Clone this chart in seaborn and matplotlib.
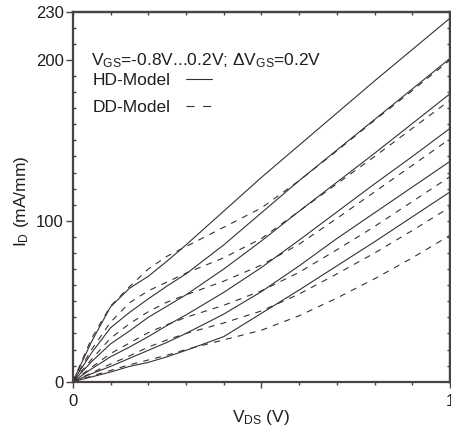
import numpy as np
import pandas as pd
import matplotlib
matplotlib.use("Agg")
import matplotlib.pyplot as plt
import seaborn as sns
from matplotlib.lines import Line2D
from matplotlib.ticker import MultipleLocator, FixedLocator, FixedFormatter, NullFormatter

# ---------------- data ----------------
V_DS = [0, 0.05, 0.1, 0.15, 0.2, 0.25, 0.3, 0.4, 0.5, 0.6, 0.7, 0.8, 0.9, 1.0]
VGS = ["0.2", "0.0", "-0.2", "-0.4", "-0.6", "-0.8"]

# HD-Model (solid)
HD_p02 = [0, 25, 46.5, 58, 65.5, 75, 85, 106, 127, 147, 167, 187, 206.5, 226]
HD_p00 = [0, 18, 33.5, 43, 51.5, 59.5, 67, 85, 105, 125, 144, 163, 182, 201]
HD_m02 = [0, 12.5, 23.5, 31.5, 40, 47, 54, 70, 87.5, 106, 124, 142, 160.5, 179]
HD_m04 = [0, 8, 15.5, 21.5, 28, 35, 41.5, 55.5, 71, 88, 105.5, 123, 140, 157.5]
HD_m06 = [0, 5, 9.5, 14.5, 19.5, 24.5, 30, 42, 56, 72, 89, 105, 121, 137]
HD_m08 = [0, 3, 6, 9.5, 12, 15.5, 19.5, 28, 42.5, 57, 72, 87, 102.5, 118]

# DD-Model (dashed)
DD_p02 = [0, 27, 47, 59, 70, 78, 84, 96, 108, 125, 143.5, 162.5, 181, 200]
DD_p00 = [0, 20, 37, 49, 56.5, 62, 67.5, 77, 89, 106, 123, 140, 157.5, 175]
DD_m02 = [0, 14, 27, 36, 43.5, 49.5, 54, 62.5, 72.5, 85.5, 101.5, 118, 134.5, 151]
DD_m04 = [0, 9, 17.5, 24, 30.5, 35.5, 40, 47.5, 56.5, 68, 82, 96.5, 112, 127.5]
DD_m06 = [0, 5.5, 11, 16, 21.5, 26, 30, 36.5, 44, 54.5, 67, 80, 94, 108.5]
DD_m08 = [0, 3.5, 7, 10.5, 13.5, 16.5, 20, 26, 32, 41, 52, 64, 77, 91]

Y_TICKS = [0, 100, 200, 230]
Y_TICKLABELS = ["0", "100", "200", "230"]
X_TICKS = [0, 0.5, 1]
X_TICKLABELS = ["0", "", "1"]

HD_SET = [HD_p02, HD_p00, HD_m02, HD_m04, HD_m06, HD_m08]
DD_SET = [DD_p02, DD_p00, DD_m02, DD_m04, DD_m06, DD_m08]

rows = []
for model, curves in (("HD", HD_SET), ("DD", DD_SET)):
    for vg, cur in zip(VGS, curves):
        for v, i in zip(V_DS, cur):
            rows.append({"V_DS": v, "I_D": i, "model": model, "V_GS": model + vg})
df = pd.DataFrame(rows)

# ---------------- style ----------------
sns.set_theme(style="white")
plt.rcParams["font.family"] = ["Liberation Sans", "DejaVu Sans"]
plt.rcParams["mathtext.fontset"] = "custom"
plt.rcParams["mathtext.rm"] = "Liberation Sans"
plt.rcParams["mathtext.it"] = "Liberation Sans:italic"
plt.rcParams["mathtext.bf"] = "Liberation Sans:bold"

LINE_C = "#383030"
SPINE_C = "#4a4240"
TEXT_C = "#1e1e1e"
FS_TICK = 12
FS_LAB = 12.5
FS_ANN = 12.5

fig = plt.figure(figsize=(4.52, 4.32), dpi=100)
fig.patch.set_facecolor("white")
ax = fig.add_axes([0.161, 0.1164, 0.8347, 0.8565])

sns.lineplot(data=df, x="V_DS", y="I_D", units="V_GS", style="model",
             estimator=None, sort=False, color=LINE_C, lw=0.8,
             dashes={"HD": "", "DD": (5.5, 5.5)}, legend=False, ax=ax)

ax.set_xlim(0, 1)
ax.set_ylim(0, 230)

for s in ax.spines.values():
    s.set_color(SPINE_C)
    s.set_linewidth(1.6)

# bottom / left ticks
ax.xaxis.set_major_locator(FixedLocator(X_TICKS))
ax.xaxis.set_major_formatter(FixedFormatter(X_TICKLABELS))
ax.xaxis.set_minor_locator(MultipleLocator(0.1))
ax.yaxis.set_major_locator(FixedLocator(Y_TICKS))
ax.yaxis.set_major_formatter(FixedFormatter(Y_TICKLABELS))
ax.yaxis.set_minor_locator(MultipleLocator(10))

ax.tick_params(axis="x", which="major", bottom=True, direction="out", length=4.2,
               width=1, color=SPINE_C, labelsize=FS_TICK, labelcolor=TEXT_C, pad=5)
ax.tick_params(axis="x", which="minor", bottom=True, direction="out", length=2.4,
               width=1, color=SPINE_C)
ax.tick_params(axis="y", which="major", left=True, direction="out", length=5,
               width=1, color=SPINE_C, labelsize=FS_TICK, labelcolor=TEXT_C, pad=1.5)
ax.tick_params(axis="y", which="minor", left=True, direction="in", length=2.2,
               width=1, color=SPINE_C)

# top / right ticks (inward, no labels)
secx = ax.secondary_xaxis("top")
secx.xaxis.set_major_locator(MultipleLocator(0.1))
secx.xaxis.set_major_formatter(NullFormatter())
secx.tick_params(direction="in", length=2.4, width=1, color=SPINE_C)
secx.spines["top"].set_color(SPINE_C)
secx.spines["top"].set_linewidth(1.6)

secy = ax.secondary_yaxis("right")
secy.yaxis.set_major_locator(MultipleLocator(10))
secy.yaxis.set_major_formatter(NullFormatter())
secy.tick_params(direction="in", length=2.4, width=1, color=SPINE_C)
secy.spines["right"].set_color(SPINE_C)
secy.spines["right"].set_linewidth(1.6)

# axis labels
ax.set_xlabel(r"V$_\mathregular{DS}$ (V)", fontsize=FS_LAB, color=TEXT_C)
ax.set_ylabel(r"I$_\mathregular{D}$ (mA/mm)", fontsize=FS_LAB, color=TEXT_C)
ax.xaxis.set_label_coords(0.5, -0.07)
ax.yaxis.set_label_coords(-0.11, 0.488)

# annotation + legend
ax.text(0.048, 0.856, r"V$_\mathregular{GS}$=-0.8V...0.2V; ΔV$_\mathregular{GS}$=0.2V",
        transform=ax.transAxes, fontsize=FS_ANN, color=TEXT_C, va="baseline", ha="left")

handles = [Line2D([], [], color=LINE_C, lw=0.8, ls="-"),
           Line2D([], [], color=LINE_C, lw=0.8, dashes=(7.2, 7.8))]
leg = ax.legend(handles, ["HD-Model", "DD-Model"], loc="upper left",
                bbox_to_anchor=(0.052, 0.834), frameon=False, markerfirst=False,
                handlelength=1.48, handletextpad=0.9, labelspacing=0.66,
                borderpad=0, borderaxespad=0, fontsize=FS_ANN)
for t in leg.get_texts():
    t.set_color(TEXT_C)

fig.savefig("out.png", dpi=100, facecolor="white")
